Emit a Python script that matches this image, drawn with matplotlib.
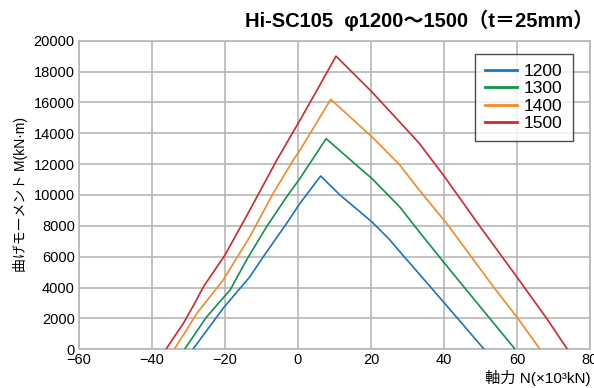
import matplotlib
matplotlib.use('Agg')
import matplotlib.pyplot as plt

plt.rcParams['font.family'] = ['Liberation Sans', 'Noto Sans CJK JP', 'DejaVu Sans']
plt.rcParams['axes.unicode_minus'] = True

# Axial force N (x10^3 kN) and bending moment M (kN.m) for each diameter
n_1200 = [-28.8, -20.5, -13.2, -9.5, -3.1, 0.55, 3.3, 6.2, 11.5, 20.2, 25.0, 27.9, 39.8, 51.0]
m_1200 = [0, 2660, 4700, 6000, 8165, 9460, 10320, 11230, 10000, 8270, 7130, 6325, 3085, 0]

n_1300 = [-31.1, -25.0, -18.6, -14.1, -8.6, -3.1, 0.55, 7.7, 17.0, 20.2, 27.9, 33.2, 39.8, 49.9, 59.5]
m_1300 = [0, 2113, 3843, 5787, 7945, 9889, 11080, 13650, 11730, 11080, 9220, 7620, 5676, 2760, 0]

n_1400 = [-33.9, -27.7, -20.5, -13.2, -6.8, -1.3, 0.55, 4.7, 8.95, 20.2, 27.9, 33.2, 40.7, 53.5, 59.9, 66.3]
m_1400 = [0, 2333, 4490, 7297, 10109, 12267, 12908, 14528, 16200, 13780, 11940, 10320, 8165, 4057, 2110, 0]

n_1500 = [-36.2, -31.4, -28.5, -25.9, -20.0, -13.2, -5.8, 0.55, 6.0, 10.4, 20.2, 30.7, 33.2, 39.8, 49.9, 59.9, 68.1, 73.8]
m_1500 = [0, 1685, 2900, 4057, 6110, 9026, 12267, 14853, 17127, 19000, 16690, 14000, 13350, 11295, 7945, 4705, 2009, 0]

series = [
    ('1200', n_1200, m_1200, '#1a75c4'),
    ('1300', n_1300, m_1300, '#12934a'),
    ('1400', n_1400, m_1400, '#f48a28'),
    ('1500', n_1500, m_1500, '#d22630'),
]

fig = plt.figure(figsize=(5.94, 3.88), dpi=100)
ax = fig.add_axes([79 / 594, 1 - 349.3 / 388, 511 / 594, 308.6 / 388])

for label, n, m, color in series:
    ax.plot(n, m, color=color, linewidth=1.2, label=label, zorder=3)

ax.set_xlim(-60, 80)
ax.set_ylim(0, 20000)
ax.set_xticks(range(-60, 81, 20))
ax.set_yticks(range(0, 20001, 2000))
ax.grid(True, color='#b8b8b8', linewidth=1.2)
ax.tick_params(length=0, labelsize=10.5, pad=3)
for spine in ax.spines.values():
    spine.set_color('#b8b8b8')
    spine.set_linewidth(1.2)

ax.set_ylabel('曲げモーメント M(kN·m)', fontsize=10, labelpad=4)
fig.text(591 / 594, 1 - 378 / 388, '軸力 N(×10³kN)', fontsize=11, ha='right', va='center')
fig.text(593 / 594, 1 - 20 / 388, 'Hi-SC105  φ1200～1500（t＝25mm）',
         fontsize=14.5, fontweight='bold', ha='right', va='center')

leg = ax.legend(loc='upper right', bbox_to_anchor=(0.966, 0.958), fontsize=12.5,
                frameon=True, fancybox=False, handlelength=1.8, handletextpad=0.4,
                borderpad=0.6, labelspacing=0.12, borderaxespad=0)
leg.get_frame().set_edgecolor('#222222')
leg.get_frame().set_linewidth(1.0)
for line in leg.get_lines():
    line.set_linewidth(2.0)

fig.savefig('out.png', dpi=100)
